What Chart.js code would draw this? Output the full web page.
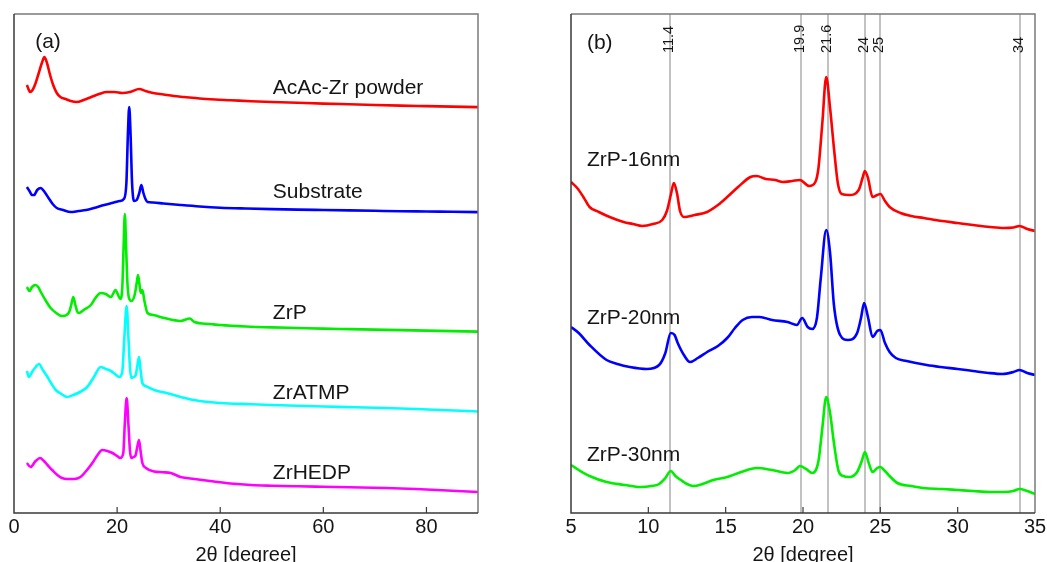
<!DOCTYPE html>
<html><head><meta charset="utf-8">
<script src="https://cdn.jsdelivr.net/npm/chart.js@4.4.0/dist/chart.umd.min.js"></script>
<style>
html,body{margin:0;padding:0;background:#fff;overflow:hidden;width:1047px;height:562px;}
#wrapA{position:absolute;left:0;top:0;width:530px;height:580px;}
#wrapB{position:absolute;left:530px;top:0;width:517px;height:580px;}
</style></head><body>
<div id="wrapA"><canvas id="cA"></canvas></div>
<div id="wrapB"><canvas id="cB"></canvas></div>
<script>
// ---------- Panel (a): 2theta [degree] vs intensity (arbitrary units, offset traces) ----------
const powderDeg = [2.5,2.8,3.1,3.6,4.2,4.8,5.4,5.9,6.4,7.0,7.6,8.3,9.0,10,11,12.2,13.5,15,16.5,18,19.5,21,22.5,24.3,25.5,27,29,31,33,36,39,42,46,50,55,60,65,70,75,80,85,90];
const powderInt = [428,424,421,423,430,440,450,456,450,438,428,420,416,414,412,411,413,416,419,421,421,420,421,424,422,420,418.5,417,416,414.5,413.5,412.8,411.8,411,410.2,409.4,408.7,408,407.4,406.9,406.4,405.9];

const substrateDeg = [2.5,3.0,3.5,3.9,4.5,5.2,5.8,6.7,7.5,8.3,9.5,11,12.5,14,15.5,17.5,19,20.5,21.3,21.8,22.1,22.35,22.6,22.9,23.3,23.8,24.3,24.7,25.1,25.5,25.9,27,29,32.3,36,40,45,50,55,60,65,70,75,80,85,90];
const substrateInt = [326,322,318,318,323,325,322,315,309,305,303,301,302,303,305,308,310,312,314,330,380,406,380,330,312,313,320,328,320,314,311,310.5,309.5,308,306.5,305.3,304.5,303.9,303.4,303,302.6,302.2,301.8,301.5,301.2,300.9];

const zrpDeg = [2.5,3.0,3.5,4.2,4.7,5.2,6.2,7.1,8.2,9.3,10.2,10.7,11.1,11.5,11.9,12.3,12.6,13.5,14.9,15.8,16.8,17.8,18.8,19.7,20.2,20.6,21.0,21.25,21.5,21.75,22.0,22.3,22.8,23.4,23.8,24.05,24.35,24.6,24.9,25.3,25.9,27,29.1,32.3,34.1,35,38,40,45,50,55,60,65,70,75,80,85,90];
const zrpInt = [226,222,226,228,226,221,212,205,200,197,198,201,208,216,208,201,200,203,208,215,220,219,216,223,218,214,225,265,299,265,230,215,212,218,230,238,228,220,223,212,200,198,195,192,194.5,191,189,188,186.5,185.6,185,184.4,183.9,183.4,182.9,182.4,181.9,181.4];

const atmpDeg = [2.5,2.9,3.5,4.2,4.85,5.6,6.5,7.3,8.1,9.2,10.3,11.5,12.8,14.2,15.5,16.8,17.8,18.8,19.6,20.4,21.0,21.4,21.85,22.2,22.5,22.75,23.2,23.6,23.95,24.25,24.55,24.9,25.5,27.2,29.6,32.3,36,40,46,50,55,60,66,72,78,84,90];
const atmpInt = [142,136,141,146,149,143,136,129,123,119,116,118,121,126,136,146,144,142,139,136,141,175,207,175,145,135,136,138,148,156,143,130,127,123,120,116,112,110,108.8,108,107.2,106.5,105.8,105,104,102.8,101.5];

const hedpDeg = [2.5,3.2,4.2,5.05,5.8,6.5,7.4,8.4,9.3,10.3,11.6,12.9,14,15.2,16.2,17.1,18.1,19.1,20.0,20.6,21.2,21.5,21.85,22.2,22.5,22.75,23.2,23.6,23.95,24.25,24.55,24.9,25.6,27.2,28.8,30.4,32.3,35,38,42,46,50,55,60,65,72,78,84,90];
const hedpInt = [50,46,52,55,52,48,43,38,35,34,34,36,42,50,58,63,62,60,57,55,60,90,115,88,62,55,56,58,67,73,62,50,45,41.5,40.8,40,36,34,32,29.5,28,27.3,26.7,26.2,25.7,25,24,22.5,21];

// ---------- Panel (b) ----------
const nm16Deg = [5.0,5.4,5.8,6.2,6.8,7.5,8.4,9.0,9.6,10.3,10.9,11.2,11.45,11.65,11.85,12.05,12.3,13.0,13.8,14.5,15.1,15.8,16.6,17.0,17.6,18.2,18.7,19.3,19.8,20.4,20.8,21.0,21.25,21.5,21.75,22.0,22.25,22.5,23.0,23.6,23.85,24.0,24.2,24.5,24.8,25.0,25.3,25.6,26.3,27.0,27.8,29.0,30.0,31.0,32.1,33.0,33.6,34.0,34.5,35.0];
const nm16Int = [331,325,316,306,301,296,291,289,287,289,293,302,318,330,320,302,296,298,301,308,316,326,336,337,334,333,331,332,333,327,331,345,390,436,405,365,330,319,318,323,335,342,335,316,318,319,312,306,300,297,295,292,290,288,286,285,285.5,287,284,282];

const nm20Deg = [5.0,5.5,6.2,7.3,8.0,8.8,9.9,10.7,11.1,11.45,11.7,11.9,12.3,12.7,13.2,13.8,14.5,15.1,15.6,16.1,16.7,17.2,18.0,19.0,19.6,19.95,20.3,20.6,20.9,21.15,21.5,21.75,22.0,22.4,22.9,23.5,23.75,23.95,24.2,24.5,24.8,25.0,25.3,25.6,26.0,26.7,28.0,28.9,30.0,31.0,32.0,32.9,33.6,34.0,34.5,35.0];
const nm20Int = [186,180,168,153,149,146,144,148,160,180,178,170,158,151,155,161,167,175,185,193,196,196,193,191,188,195,186,184,195,235,283,260,208,178,173,180,195,210,196,176,182,183,170,161,155,152,148,146,144,142,140,139,141,143,140,138];

const nm30Deg = [5.0,5.5,6.2,7.3,8.5,9.5,10.2,10.7,11.1,11.45,11.75,12.1,12.5,12.9,13.5,14.2,15.1,16.0,17.0,18.0,19.0,19.5,19.8,20.2,20.6,21.0,21.25,21.5,21.75,22.0,22.3,22.6,23.0,23.5,23.8,24.0,24.25,24.5,24.8,25.0,25.3,25.6,26.1,27.0,27.8,29.0,30.0,31.0,32.1,33.0,33.6,34.0,34.5,35.0];
const nm30Int = [48,43,37,31,28,26,27,29,35,42,37,33,29,27,29,33,36,41,45,43,40,43,47,44,40,52,85,116,100,70,42,37,36,41,52,61,50,41,45,46,42,37,30,27,25,24,23,22,21,21,22,24,22,19];

// reference peak positions (panel b)
const refLines = [11.4, 19.9, 21.6, 24, 25, 34];
const refLineLabels = ['11.4', '19.9', '21.6', '24', '25', '34'];

const xTicksA = [0, 20, 40, 60, 80];
const xTicksB = [5, 10, 15, 20, 25, 30, 35];

const FONT = '"Liberation Sans", Arial, Helvetica, sans-serif';

function series(xs, ys, color) {
  return {
    data: xs.map((x, i) => ({x: x, y: ys[i]})),
    borderColor: color, backgroundColor: color,
    borderWidth: 2.6, pointRadius: 0, fill: false,
    cubicInterpolationMode: 'monotone'
  };
}

const decor = {
  id: 'decor',
  beforeDatasetsDraw(chart, args, opts) {
    const {ctx, chartArea: a, scales: {x}} = chart;
    ctx.save();
    ctx.strokeStyle = '#c2c2c2';
    ctx.lineWidth = 2;
    (opts.vlines || []).forEach(v => {
      const px = Math.round(x.getPixelForValue(v));
      ctx.beginPath(); ctx.moveTo(px, a.top); ctx.lineTo(px, a.bottom); ctx.stroke();
    });
    ctx.restore();
  },
  afterDatasetsDraw(chart, args, opts) {
    const {ctx, chartArea: a, scales: {x, y}} = chart;
    ctx.save();
    // box
    ctx.lineWidth = 1.5;
    ctx.strokeStyle = '#7a7a7a';
    ctx.beginPath();
    ctx.moveTo(a.left, a.top); ctx.lineTo(a.right, a.top); ctx.lineTo(a.right, a.bottom);
    ctx.stroke();
    ctx.strokeStyle = '#3a3a3a';
    ctx.beginPath();
    ctx.moveTo(a.left, a.top); ctx.lineTo(a.left, a.bottom); ctx.lineTo(a.right, a.bottom);
    ctx.stroke();
    // inward ticks
    ctx.lineWidth = 1.2;
    (opts.ticks || []).forEach(v => {
      const px = x.getPixelForValue(v);
      if (px > a.left + 2 && px < a.right - 2) {
        ctx.beginPath(); ctx.moveTo(px, a.bottom); ctx.lineTo(px, a.bottom - 6); ctx.stroke();
      }
    });
    // series labels
    ctx.fillStyle = '#151515';
    ctx.font = '21px ' + FONT;
    ctx.textAlign = 'left';
    ctx.textBaseline = 'middle';
    (opts.labels || []).forEach(l => {
      ctx.fillText(l.text, x.getPixelForValue(l.x), y.getPixelForValue(l.y));
    });
    // rotated reference line labels
    ctx.font = '14.5px ' + FONT;
    ctx.textBaseline = 'alphabetic';
    (opts.vlines || []).forEach((v, i) => {
      const px = x.getPixelForValue(v);
      ctx.save();
      ctx.translate(px + 3, y.getPixelForValue(opts.vlabelY));
      ctx.rotate(-Math.PI / 2);
      ctx.fillText(opts.vlabels[i], 0, 0);
      ctx.restore();
    });
    ctx.restore();
  }
};

function makeChart(id, datasets, xmin, xmax, tickVals, pad, decorOpts) {
  return new Chart(document.getElementById(id), {
    type: 'line',
    data: {datasets: datasets},
    plugins: [decor],
    options: {
      responsive: true, maintainAspectRatio: false, animation: false, devicePixelRatio: 1,
      layout: {padding: pad},
      plugins: {legend: {display: false}, tooltip: {enabled: false}, decor: decorOpts},
      scales: {
        x: {
          type: 'linear', min: xmin, max: xmax,
          afterBuildTicks(s) { s.ticks = tickVals.map(v => ({value: v})); },
          afterFit(s) { s.height = 67; s.paddingLeft = 0; s.paddingRight = 0; },
          ticks: {font: {size: 20, family: FONT}, color: '#151515', padding: 2, maxRotation: 0, autoSkip: false},
          grid: {display: true, drawOnChartArea: false, drawTicks: false},
          border: {display: false},
          title: {display: true, text: '2θ [degree]', font: {size: 20, family: FONT}, color: '#151515', padding: {top: 0, bottom: 13}}
        },
        y: {display: false, min: 0, max: 499}
      }
    }
  });
}

makeChart('cA', [
  series(powderDeg, powderInt, '#ff0000'),
  series(substrateDeg, substrateInt, '#0000ff'),
  series(zrpDeg, zrpInt, '#00ee00'),
  series(atmpDeg, atmpInt, '#00ffff'),
  series(hedpDeg, hedpInt, '#ff00ff')
], 0, 90, xTicksA, {left: 14, top: 14, right: 52, bottom: 0}, {
  ticks: xTicksA,
  labels: [
    {text: '(a)', x: 4.1, y: 471},
    {text: 'AcAc-Zr powder', x: 50.2, y: 425},
    {text: 'Substrate', x: 50.2, y: 321},
    {text: 'ZrP', x: 50.2, y: 200},
    {text: 'ZrATMP', x: 50.2, y: 120},
    {text: 'ZrHEDP', x: 50.2, y: 40}
  ]
});

makeChart('cB', [
  series(nm16Deg, nm16Int, '#ff0000'),
  series(nm20Deg, nm20Int, '#0000ff'),
  series(nm30Deg, nm30Int, '#00ee00')
], 5, 35, xTicksB, {left: 41, top: 14, right: 12, bottom: 0}, {
  ticks: xTicksB,
  vlines: refLines, vlabels: refLineLabels, vlabelY: 460,
  labels: [
    {text: '(b)', x: 6.03, y: 470},
    {text: 'ZrP-16nm', x: 6.03, y: 353},
    {text: 'ZrP-20nm', x: 6.03, y: 195},
    {text: 'ZrP-30nm', x: 6.03, y: 58}
  ]
});
</script>
</body></html>
